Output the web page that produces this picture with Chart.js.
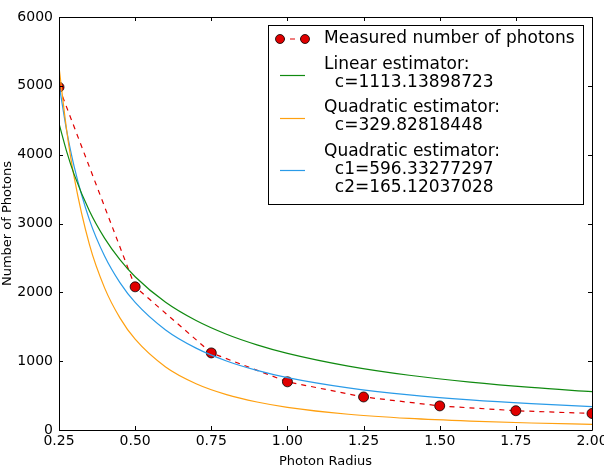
<!DOCTYPE html>
<html>
<head>
<meta charset="utf-8">
<script src="https://cdn.jsdelivr.net/npm/chart.js@4/dist/chart.umd.min.js"></script>
<style>
html,body{margin:0;padding:0;background:#fff;}
#wrap{width:604px;height:470px;}
</style>
</head>
<body>
<div id="wrap"><canvas id="c" width="604" height="470"></canvas></div>
<script>
// Measured points
const measuredRadius = [0.25, 0.5, 0.75, 1.0, 1.25, 1.5, 1.75, 2.0];
const measuredPhotons = [4980, 2080, 1120, 700, 480, 350, 280, 240];

// Estimator curves
const curveRadius = [0.25, 0.275, 0.3, 0.35, 0.4, 0.45, 0.5, 0.6, 0.7, 0.8, 0.9, 1.0, 1.2, 1.4, 1.6, 1.8, 2.0];
const linearValues = [4453, 4048, 3710, 3180, 2783, 2474, 2226, 1855, 1590, 1391, 1237, 1113, 928, 795, 696, 618, 557];
const quadraticValues = [5277, 4361, 3665, 2692, 2061, 1629, 1319, 916, 673, 515, 407, 330, 229, 168, 129, 102, 82];
const combinedValues = [5027, 4352, 3822, 3052, 2523, 2141, 1853, 1453, 1189, 1003, 866, 761, 612, 510, 437, 382, 339];

const legendEntries = [
  {lines: ["Measured number of photons"], color: "#e00000", kind: "measured"},
  {lines: ["Linear estimator:", "  c=1113.13898723"], color: "#108a10", kind: "line"},
  {lines: ["Quadratic estimator:", "  c=329.82818448"], color: "#ffa010", kind: "line"},
  {lines: ["Quadratic estimator:", "  c1=596.33277297", "  c2=165.12037028"], color: "#2a9be8", kind: "line"}
];

const xTicks = [0.25, 0.5, 0.75, 1.0, 1.25, 1.5, 1.75, 2.0];
const yTicks = [0, 1000, 2000, 3000, 4000, 5000, 6000];

const FONT = "'DejaVu Sans', sans-serif";

function pts(xs, ys){ return xs.map((x,i)=>({x:x, y:ys[i]})); }

const framePlugin = {
  id: 'frame',
  afterDatasetsDraw(chart){
    const {ctx, chartArea:a, scales:{x, y}} = chart;
    ctx.save();
    ctx.strokeStyle = '#000';
    ctx.lineWidth = 1;
    ctx.beginPath();
    ctx.rect(Math.round(a.left)+0.5, Math.round(a.top)+0.5, Math.round(a.right-a.left), Math.round(a.bottom-a.top));
    ctx.stroke();
    ctx.beginPath();
    const L = 4;
    xTicks.forEach(v=>{
      const px = Math.round(x.getPixelForValue(v))+0.5;
      ctx.moveTo(px, a.bottom); ctx.lineTo(px, a.bottom-L);
      ctx.moveTo(px, a.top); ctx.lineTo(px, a.top+L);
    });
    yTicks.forEach(v=>{
      const py = Math.round(y.getPixelForValue(v))+0.5;
      ctx.moveTo(a.left, py); ctx.lineTo(a.left+L, py);
      ctx.moveTo(a.right, py); ctx.lineTo(a.right-L, py);
    });
    ctx.stroke();
    ctx.restore();
  },
  afterDraw(chart){
    const ctx = chart.ctx;
    ctx.save();
    // legend box
    const bx = 268.5, by = 25.5, bw = 315, bh = 179;
    ctx.fillStyle = '#fff';
    ctx.fillRect(bx, by, bw, bh);
    ctx.strokeStyle = '#000';
    ctx.lineWidth = 1;
    ctx.strokeRect(bx, by, bw, bh);
    ctx.font = "17px " + FONT;
    ctx.fillStyle = '#000';
    ctx.textBaseline = 'middle';
    ctx.textAlign = 'left';
    const rowYs = [[39],[65,83],[108,126],[152,170,188]];
    const handleYs = [39, 75, 118, 170];
    legendEntries.forEach((e, i)=>{
      rowYs[i].forEach((yy, j)=>{
        ctx.fillText(e.lines[j], 324, yy);
      });
      const hy = handleYs[i];
      ctx.strokeStyle = e.color;
      if (e.kind === 'measured'){
        ctx.lineWidth = 1.2;
        ctx.setLineDash([5,5]);
        ctx.beginPath(); ctx.moveTo(280, hy); ctx.lineTo(305, hy); ctx.stroke();
        ctx.setLineDash([]);
        [280, 305].forEach(mx=>{
          ctx.beginPath(); ctx.arc(mx, hy, 4.5, 0, Math.PI*2);
          ctx.fillStyle = '#e00000'; ctx.fill();
          ctx.strokeStyle = '#000'; ctx.lineWidth = 0.8; ctx.stroke();
        });
        ctx.fillStyle = '#000';
      } else {
        ctx.lineWidth = 1.2;
        ctx.beginPath(); ctx.moveTo(280, hy+0.5); ctx.lineTo(305, hy+0.5); ctx.stroke();
      }
    });
    ctx.restore();
  }
};

const curveCommon = {
  pointRadius: 0, borderWidth: 1.2, fill: false, cubicInterpolationMode: 'monotone'
};

new Chart(document.getElementById('c'), {
  type: 'line',
  data: {
    datasets: [
      Object.assign({label: 'Linear estimator', data: pts(curveRadius, linearValues), borderColor: '#108a10'}, curveCommon),
      Object.assign({label: 'Quadratic estimator', data: pts(curveRadius, quadraticValues), borderColor: '#ffa010'}, curveCommon),
      Object.assign({label: 'Quadratic estimator 2', data: pts(curveRadius, combinedValues), borderColor: '#2a9be8'}, curveCommon),
      {label: 'Measured number of photons', data: pts(measuredRadius, measuredPhotons),
       borderColor: '#e00000', borderWidth: 1.2, borderDash: [5,5], tension: 0, fill: false,
       pointRadius: 5, pointBackgroundColor: '#e00000', pointBorderColor: '#000', pointBorderWidth: 0.8}
    ]
  },
  options: {
    responsive: false,
    animation: false,
    events: [],
    layout: {padding: {top: 17, right: 12, left: 0, bottom: 0}},
    plugins: {legend: {display: false}, tooltip: {enabled: false}},
    scales: {
      x: {
        type: 'linear', min: 0.25, max: 2.0,
        afterBuildTicks(s){ s.ticks = xTicks.map(v=>({value:v})); },
        afterFit(s){ s.height = 40; s.paddingRight = 0; s.paddingLeft = 0; },
        grid: {display: false, drawTicks: false},
        border: {display: false},
        ticks: {color: '#000', font: {family: FONT, size: 14}, padding: 3, maxRotation: 0,
          callback: v => v.toFixed(2)},
        title: {display: true, text: 'Photon Radius', color: '#000', font: {family: FONT, size: 13}, padding: {top: 0, bottom: 1}}
      },
      y: {
        type: 'linear', min: 0, max: 6000,
        afterBuildTicks(s){ s.ticks = yTicks.map(v=>({value:v})); },
        afterFit(s){ s.width = 59; s.paddingTop = 0; s.paddingBottom = 0; },
        grid: {display: false, drawTicks: false},
        border: {display: false},
        ticks: {color: '#000', font: {family: FONT, size: 14}, padding: 6,
          callback: v => String(v)},
        title: {display: true, text: 'Number of Photons', color: '#000', font: {family: FONT, size: 13}, padding: {top: 0, bottom: 0}}
      }
    }
  },
  plugins: [framePlugin]
});
</script>
</body>
</html>
